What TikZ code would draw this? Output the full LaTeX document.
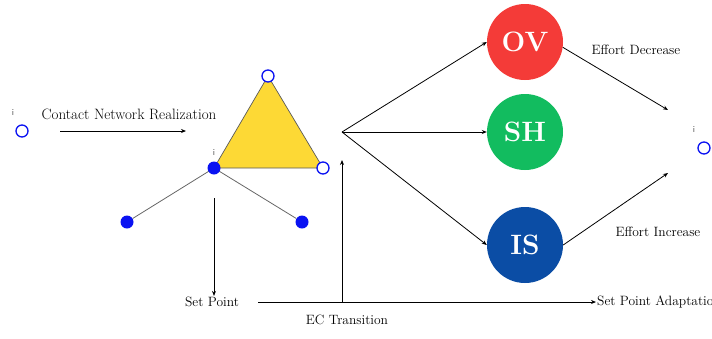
\documentclass[tikz,border=0pt]{standalone}
\usepackage{tikz}
\usetikzlibrary{arrows.meta,positioning}
\definecolor{ovred}{HTML}{F43B38}
\definecolor{shgreen}{HTML}{12BC5F}
\definecolor{isblue}{HTML}{0B4DA5}
\definecolor{triyellow}{HTML}{FDD935}
\definecolor{vblue}{HTML}{0A12F2}
\tikzset{
	opennode/.style={circle, draw=vblue, line width=1.3pt, fill=white, minimum size=12pt, inner sep=0pt},
	fullnode/.style={circle, fill=vblue, minimum size=13pt, inner sep=0pt},
	statenode/.style={circle, minimum size=76pt, inner sep=0pt, text=white, font=\fontsize{28}{28}\selectfont\bfseries},
	lbl/.style={font=\fontsize{13.5}{15}\selectfont, inner sep=1pt},
	idx/.style={font=\sffamily\fontsize{9}{9}\selectfont, text=black!70, inner sep=0pt},
	flow/.style={-{Stealth[length=5pt,width=4pt]}, line width=0.8pt},
	edge/.style={draw=black!60, line width=0.8pt}
}

\begin{document}
\begin{tikzpicture}[x=1pt,y=-1pt]
	%%%%% START %%%%%
	\useasboundingbox (0,0) rectangle (712,338);
	
	% single vertex on the left
	\node[opennode] (src) at (22,131) {};
	\node[idx] (srcidx) at (13,113) {i};
	\coordinate (cnfrom) at (60,131);
	\coordinate (cnto) at (186,131);
	\draw[flow] (cnfrom) -- (cnto);
	\node[lbl, font=\fontsize{15}{17}\selectfont] (cnlbl) at (129,114) {Contact Network Realization};
	
	% contact network
	\coordinate (ta) at (268,76);
	\coordinate (tb) at (214,168);
	\coordinate (tc) at (323,168);
	\draw[fill=triyellow, draw=black!65, line width=0.7pt] (ta) -- (tb) -- (tc) -- cycle;
	\node[fullnode] (leafl) at (127,222) {};
	\node[fullnode] (leafr) at (302,222) {};
	\draw[edge] (tb) -- (leafl);
	\draw[edge] (tb) -- (leafr);
	\node[opennode] (va) at (ta) {};
	\node[fullnode] (vb) at (tb) {};
	\node[opennode] (vc) at (tc) {};
	\node[idx] (vbidx) at (214,153) {i};
	
	% set point line
	\coordinate (spfrom) at (214,198);
	\node[lbl] (sp) at (212,302) {Set Point};
	\draw[flow] (spfrom) -- (spfrom |- sp.north);
	\coordinate (adfrom) at (258,302);
	\node[lbl, anchor=west] (spa) at (596,302) {Set Point Adaptation};
	\draw[flow] (adfrom) -- (spa.west);
	\coordinate (ecfoot) at (342,302);
	\coordinate (ectop) at (342,160);
	\draw[flow] (ecfoot) -- (ectop);
	\node[lbl] (eclbl) at (347,320) {EC Transition};
	
	% states
	\coordinate (hub) at (342,132);
	\node[statenode, fill=ovred] (ov) at (525,42) {OV};
	\node[statenode, fill=shgreen] (sh) at (525,132) {SH};
	\node[statenode, fill=isblue] (is) at (525,245) {IS};
	\draw[flow] (hub) -- (ov.west);
	\draw[flow] (hub) -- (sh.west);
	\draw[flow] (hub) -- (is.west);
	
	% single vertex on the right
	\node[opennode] (dst) at (704,148) {};
	\node[idx] (dstidx) at (694,130) {i};
	\coordinate (decto) at (668,110);
	\coordinate (incto) at (668,173);
	\draw[flow] (ov.-8) -- (decto);
	\draw[flow] (is.east) -- (incto);
	\node[lbl] (declbl) at (636,50) {Effort Decrease};
	\node[lbl] (inclbl) at (658,232) {Effort Increase};
	%%%%% END %%%%%
\end{tikzpicture}
\end{document}
